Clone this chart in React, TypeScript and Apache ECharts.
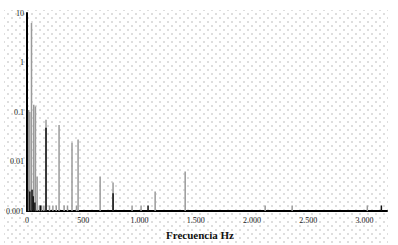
import React, { useEffect, useRef } from 'react';
import * as echarts from 'echarts';

// Spectrum lines (frequency in Hz, amplitude)
const grayFreqs = [15, 25, 40, 60, 75, 90, 110, 130, 150, 169, 200, 230, 260, 285, 330, 360, 400, 440, 454, 650, 765, 934, 1014, 1139, 1406, 2117, 2357, 3025];
const grayValues = [0.11, 0.1, 6.3, 0.14, 0.13, 0.005, 0.0013, 0.0013, 0.0013, 0.07, 0.0013, 0.0013, 0.0013, 0.055, 0.0013, 0.0013, 0.024, 0.0013, 0.028, 0.005, 0.0038, 0.0013, 0.0013, 0.0025, 0.0063, 0.0013, 0.0013, 0.0013];
const blackFreqs = [5, 25, 45, 55, 70, 120, 169, 765, 1076, 3150];
const blackValues = [0.0027, 0.0025, 0.0027, 0.002, 0.0015, 0.0013, 0.048, 0.0023, 0.0013, 0.0013];

const xTickValues = [0, 500, 1000, 1500, 2000, 2500, 3000];
const xTickLabels = ['0', '500', '1.000', '1.500', '2.000', '2.500', '3.000'];
const yTickLabels = ['0.001', '0.01', '0.1', '1', '10'];
const xName = 'Frecuencia Hz';

const FONT = '"Liberation Serif", "DejaVu Serif", serif';

function makeLines(freqs: number[], values: number[]) {
  return freqs.map((f, i) => [f, values[i]]);
}

export default function App() {
  const ref = useRef<HTMLDivElement>(null);
  useEffect(() => {
    if (!ref.current) return;
    const chart = echarts.init(ref.current, undefined, { renderer: 'svg' });
    const renderLine = (color: string) => (params: any, api: any) => {
      const x = api.value(0);
      const v = api.value(1);
      const p0 = api.coord([x, 0.001]);
      const p1 = api.coord([x, v]);
      return {
        type: 'line',
        shape: { x1: p0[0], y1: p0[1], x2: p1[0], y2: p1[1] },
        style: { stroke: color, lineWidth: 1.5 },
      };
    };
    chart.setOption({
      animation: false,
      backgroundColor: 'transparent',
      grid: { left: 27, right: 11, top: 13, bottom: 32 },
      xAxis: {
        type: 'value',
        min: 0,
        max: 3200,
        interval: 500,
        name: xName,
        nameLocation: 'middle',
        nameGap: 14,
        nameTextStyle: { fontFamily: FONT, fontSize: 11, fontWeight: 'bold', color: '#111', padding: [0, 14, 0, 0] },
        axisLine: { lineStyle: { color: '#000', width: 2 } },
        axisTick: { show: false },
        splitLine: { show: false },
        axisLabel: {
          fontFamily: FONT,
          fontSize: 8,
          color: '#222',
          margin: 5,
          formatter: (v: number) => {
            const i = xTickValues.indexOf(Math.round(v));
            return i >= 0 ? xTickLabels[i] : '';
          },
        },
      },
      yAxis: {
        type: 'log',
        logBase: 10,
        min: 0.001,
        max: 10,
        axisLine: { show: true, lineStyle: { color: '#000', width: 2 } },
        axisTick: { show: false },
        splitLine: { show: false },
        axisLabel: {
          fontFamily: FONT,
          fontSize: 8,
          color: '#222',
          margin: 3,
          formatter: (v: number) => {
            const e = Math.round(Math.log10(v));
            return yTickLabels[e + 3] ?? '';
          },
        },
      },
      series: [
        {
          type: 'custom',
          renderItem: renderLine('#9a9a9a'),
          encode: { x: 0, y: 1 },
          data: makeLines(grayFreqs, grayValues),
        },
        {
          type: 'custom',
          renderItem: renderLine('#111'),
          encode: { x: 0, y: 1 },
          data: makeLines(blackFreqs, blackValues),
        },
      ],
    });
    return () => chart.dispose();
  }, []);
  const dots = 'radial-gradient(circle, #c4c4c4 0.55px, rgba(0,0,0,0) 0.9px)';
  return (
    <div style={{ position: 'absolute', left: 0, top: 0, width: 398, height: 245, background: '#fff' }}>
      <div
        style={{
          position: 'absolute',
          left: 4,
          top: 10,
          width: 384,
          height: 235,
          backgroundImage: `${dots}, ${dots}`,
          backgroundSize: '8px 8px',
          backgroundPosition: '0 0, 4px 4px',
        }}
      />
      <div ref={ref} style={{ position: 'absolute', left: 0, top: 0, width: 398, height: 245 }} />
    </div>
  );
}
